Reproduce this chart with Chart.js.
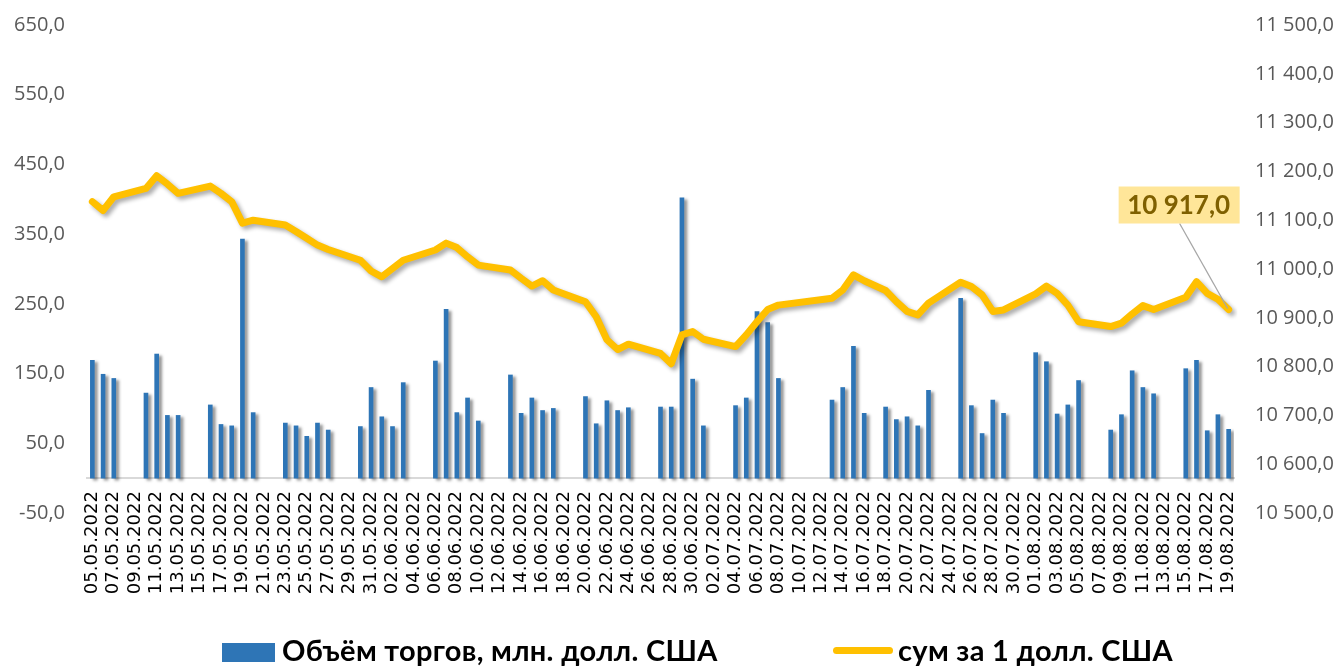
<!DOCTYPE html>
<html>
<head>
<meta charset="utf-8">
<script src="https://cdn.jsdelivr.net/npm/chart.js@4"></script>
<style>
  html, body { margin: 0; padding: 0; background: #fff; }
  #wrap { position: relative; width: 1340px; height: 666px; }
  #legend .item {
    position: absolute; top: 632px; height: 36px; line-height: 36px;
    font-family: Lato, "Open Sans", sans-serif; font-weight: bold; font-size: 29px;
    letter-spacing: 0.3px; color: #000; white-space: nowrap;
  }
  #legend .box { display: inline-block; width: 53px; height: 19px; margin-right: 7px; vertical-align: -1px; }
  #legend .ln { display: inline-block; width: 60px; height: 7px; border-radius: 4px; margin-right: 5px; vertical-align: 7px; }
</style>
</head>
<body>
<div id="wrap">
  <canvas id="chart" width="1340" height="666"></canvas>
  <div id="legend">
    <span class="item" style="left:222px"><i class="box" id="lgBar"></i>Объём торгов, млн. долл. США</span>
    <span class="item" style="left:833px"><i class="ln" id="lgLine"></i>сум за 1 долл. США</span>
  </div>
</div>
<script>
const dates = [
  '05.05.2022','06.05.2022','07.05.2022','08.05.2022','09.05.2022','10.05.2022','11.05.2022','12.05.2022','13.05.2022','14.05.2022',
  '15.05.2022','16.05.2022','17.05.2022','18.05.2022','19.05.2022','20.05.2022','21.05.2022','22.05.2022','23.05.2022','24.05.2022',
  '25.05.2022','26.05.2022','27.05.2022','28.05.2022','29.05.2022','30.05.2022','31.05.2022','01.06.2022','02.06.2022','03.06.2022',
  '04.06.2022','05.06.2022','06.06.2022','07.06.2022','08.06.2022','09.06.2022','10.06.2022','11.06.2022','12.06.2022','13.06.2022',
  '14.06.2022','15.06.2022','16.06.2022','17.06.2022','18.06.2022','19.06.2022','20.06.2022','21.06.2022','22.06.2022','23.06.2022',
  '24.06.2022','25.06.2022','26.06.2022','27.06.2022','28.06.2022','29.06.2022','30.06.2022','01.07.2022','02.07.2022','03.07.2022',
  '04.07.2022','05.07.2022','06.07.2022','07.07.2022','08.07.2022','09.07.2022','10.07.2022','11.07.2022','12.07.2022','13.07.2022',
  '14.07.2022','15.07.2022','16.07.2022','17.07.2022','18.07.2022','19.07.2022','20.07.2022','21.07.2022','22.07.2022','23.07.2022',
  '24.07.2022','25.07.2022','26.07.2022','27.07.2022','28.07.2022','29.07.2022','30.07.2022','31.07.2022','01.08.2022','02.08.2022',
  '03.08.2022','04.08.2022','05.08.2022','06.08.2022','07.08.2022','08.08.2022','09.08.2022','10.08.2022','11.08.2022','12.08.2022',
  '13.08.2022','14.08.2022','15.08.2022','16.08.2022','17.08.2022','18.08.2022','19.08.2022'
];

// объём торгов, млн. долл. США (null = нет торгов)
const volumeValues = [
  169, 149, 143, null, null, 122, 178, 90, 90, null,
  null, 105, 77, 75, 343, 94, null, null, 79, 75,
  60, 79, 69, null, null, 74, 130, 88, 74, 137,
  null, null, 168, 242, 94, 115, 82, null, null, 148,
  93, 115, 97, 100, null, null, 117, 78, 111, 97,
  101, null, null, 102, 102, 402, 142, 75, null, null,
  104, 115, 239, 223, 143, null, null, null, null, 112,
  130, 189, 93, null, 102, 84, 88, 75, 126, null,
  null, 258, 104, 64, 112, 93, null, null, 180, 167,
  92, 105, 140, null, null, 69, 91, 154, 130, 121,
  null, null, 157, 169, 68, 91, 70
];

// курс, сум за 1 долл. США
const rateValues = [
  11138, 11120, 11148, null, null, 11165, 11191, 11174, 11155, null,
  null, 11170, 11155, 11138, 11094, 11100, null, null, 11090, 11077,
  11063, 11049, 11040, null, null, 11018, 10996, 10984, 11001, 11018,
  null, null, 11039, 11053, 11044, 11025, 11008, null, null, 10998,
  10981, 10965, 10976, 10957, null, null, 10933, 10902, 10855, 10835,
  10846, null, null, 10827, 10806, 10865, 10872, 10856, null, null,
  10841, 10865, 10892, 10917, 10926, null, null, null, null, 10940,
  10957, 10988, 10976, null, 10956, 10933, 10913, 10906, 10930, null,
  null, 10973, 10964, 10947, 10913, 10916, null, null, 10949, 10965,
  10950, 10926, 10892, null, null, 10882, 10889, 10908, 10925, 10917,
  null, null, 10942, 10974, 10950, 10938, 10917
];

const seriesNames = ['Объём торгов, млн. долл. США', 'сум за 1 долл. США'];
const barColor = '#2E75B6';
const lineColor = '#FFC000';

document.getElementById('lgBar').style.background = barColor;
document.getElementById('lgLine').style.background = lineColor;

function fmt(v) {
  const parts = Math.abs(v).toFixed(1).split('.');
  const whole = parts[0].replace(/\B(?=(\d{3})+(?!\d))/g, ' ');
  return (v < 0 ? '-' : '') + whole + ',' + parts[1];
}

// тень как в Excel
const shadowPlugin = {
  id: 'shadow',
  beforeDatasetDraw(chart, args) {
    const ctx = chart.ctx;
    ctx.save();
    const isLine = args.meta.type === 'line';
    ctx.shadowColor = isLine ? 'rgba(0,0,0,0.33)' : 'rgba(0,0,0,0.42)';
    ctx.shadowBlur = isLine ? 4 : 3;
    ctx.shadowOffsetX = 3;
    ctx.shadowOffsetY = isLine ? 3 : 2;
  },
  afterDatasetDraw(chart) {
    chart.ctx.restore();
  }
};

// подпись последнего значения курса
const lastLabelPlugin = {
  id: 'lastLabel',
  afterDatasetsDraw(chart) {
    const ctx = chart.ctx;
    const meta = chart.getDatasetMeta(0);
    const i = rateValues.length - 1;
    const pt = meta.data[i];
    if (!pt) return;
    ctx.save();
    ctx.strokeStyle = '#A6A6A6';
    ctx.lineWidth = 1.3;
    ctx.beginPath();
    ctx.moveTo(pt.x - 49, pt.y - 86);
    ctx.lineTo(pt.x - 1, pt.y - 1);
    ctx.stroke();
    ctx.fillStyle = '#FFE699';
    ctx.fillRect(pt.x - 110, pt.y - 123, 121, 37);
    ctx.fillStyle = '#7F6000';
    ctx.font = 'bold 26px Lato, sans-serif';
    ctx.textAlign = 'center';
    ctx.textBaseline = 'middle';
    ctx.fillText(fmt(rateValues[i]), pt.x - 50, pt.y - 104);
    ctx.restore();
  }
};

const tickFont = { family: '"Open Sans", sans-serif', size: 20 };

// убрать вертикальный отступ подписей, чтобы область графика шла от 25 до 513 px
function fitY(width) {
  return s => {
    s.width = width;
    s.paddingTop = 0;
    s.paddingBottom = 0;
  };
}

new Chart(document.getElementById('chart'), {
  type: 'bar',
  data: {
    labels: dates,
    datasets: [
      {
        type: 'line',
        label: seriesNames[1],
        data: rateValues,
        yAxisID: 'y1',
        borderColor: lineColor,
        borderWidth: 7,
        borderCapStyle: 'round',
        borderJoinStyle: 'round',
        pointRadius: 0,
        tension: 0,
        spanGaps: true,
        order: 0
      },
      {
        type: 'bar',
        label: seriesNames[0],
        data: volumeValues,
        yAxisID: 'y',
        backgroundColor: barColor,
        barThickness: 4,
        order: 1
      }
    ]
  },
  options: {
    responsive: false,
    animation: false,
    layout: { padding: { top: 25, bottom: 153, left: 0, right: 0 } },
    plugins: {
      legend: { display: false },
      tooltip: { enabled: false }
    },
    scales: {
      x: {
        position: { y: 0 },
        grid: { display: true, drawOnChartArea: false, drawTicks: false },
        border: { display: true, color: '#D9D9D9', width: 2 },
        ticks: {
          autoSkip: false,
          minRotation: 90,
          maxRotation: 90,
          padding: 13,
          color: '#000',
          font: { family: '"DejaVu Sans", sans-serif', size: 18 },
          callback: (v, i) => (i % 2 === 0 ? dates[i] : '')
        }
      },
      y: {
        position: 'left',
        min: -50,
        max: 650,
        grid: { display: false, drawTicks: false },
        border: { display: false },
        ticks: { stepSize: 100, padding: 22, color: '#595959', font: tickFont, callback: v => fmt(v) },
        afterFit: fitY(87)
      },
      y1: {
        position: 'right',
        min: 10500,
        max: 11500,
        grid: { display: false, drawTicks: false },
        border: { display: false },
        ticks: { stepSize: 100, padding: 21, color: '#595959', font: tickFont, callback: v => fmt(v) },
        afterFit: fitY(106)
      }
    }
  },
  plugins: [shadowPlugin, lastLabelPlugin]
});
</script>
</body>
</html>
